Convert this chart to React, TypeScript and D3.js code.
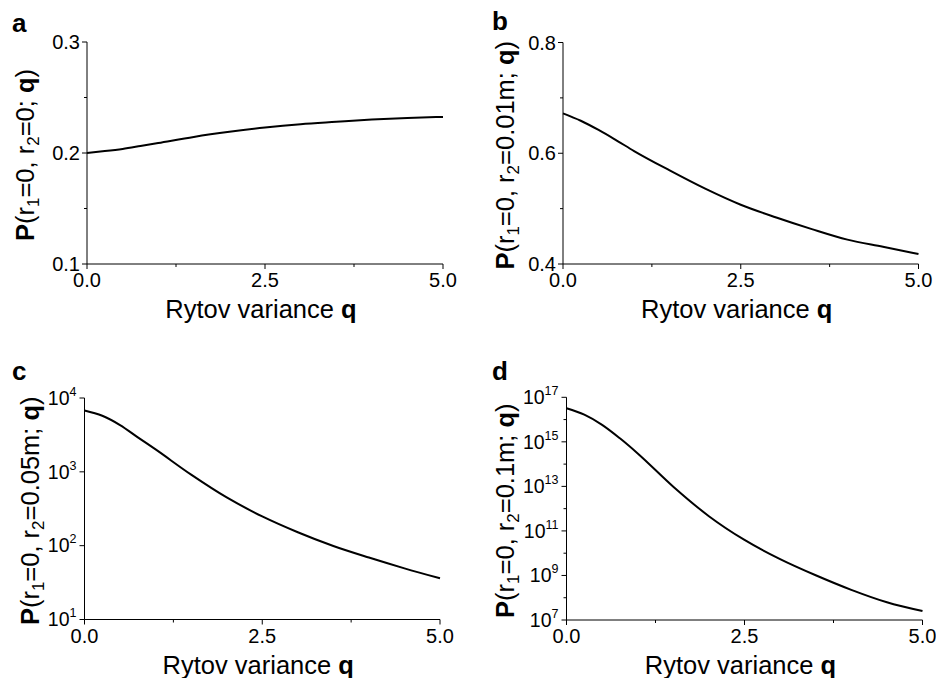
import React from "react";
import * as d3 from "d3";

// ---- data ----
const qValues = [0, 0.25, 0.5, 0.75, 1, 1.5, 2, 2.5, 3, 3.5, 4, 4.5, 5];
const aValues = [0.2, 0.2017, 0.2037, 0.2063, 0.209, 0.2145, 0.2191, 0.223, 0.226, 0.2281, 0.2301, 0.2315, 0.2325];
const bValues = [0.672, 0.6587, 0.642, 0.6234, 0.604, 0.569, 0.536, 0.507, 0.484, 0.463, 0.444, 0.431, 0.418];
const cValues = [6790, 5750, 4300, 2930, 2010, 916, 450, 249, 152, 99, 69, 49.3, 36.1];
const dValues = [3.21e16, 1.66e16, 5.8e15, 1.44e15, 3.02e14, 9.68e12, 4.59e11, 3.94e10, 5.42e9, 1.02e9, 2.26e8, 6.25e7, 2.51e7];

const xTicks = [0, 2.5, 5];
const xMinorTicks = [1.25, 3.75];
const aTicks = [0.1, 0.2, 0.3];
const aMinor = [0.15, 0.25];
const bTicks = [0.4, 0.6, 0.8];
const bMinor = [0.5, 0.7];
const cExponents = [1, 2, 3, 4];
const cMinorExp: number[] = [];
const dExponents = [7, 9, 11, 13, 15, 17];
const dMinorExp = [8, 10, 12, 14, 16];

const panelLetters = ["a", "b", "c", "d"];
const r2Labels = ["0", "0.01m", "0.05m", "0.1m"];
const xTitle = "Rytov variance ";

const FONT = "Arial, 'Liberation Sans', Helvetica, sans-serif";

type PanelProps = {
  letter: string;
  r2: string;
  values: number[];
  log: boolean;
  domain: [number, number];
  ticks: number[];
  minor: number[];
  box: { x0: number; x1: number; y0: number; y1: number };
  letterPos: [number, number];
  ylabX: number;
};

function Panel(p: PanelProps) {
  const { box } = p;
  const x = d3.scaleLinear().domain([0, 5]).range([box.x0, box.x1]);
  const y = p.log
    ? d3.scaleLog().domain(p.domain).range([box.y1, box.y0])
    : d3.scaleLinear().domain(p.domain).range([box.y1, box.y0]);
  const pts = qValues.map((q, i) => [q, p.values[i]] as [number, number]);
  const line = d3
    .line<[number, number]>()
    .x((d) => x(d[0]))
    .y((d) => y(d[1]))
    .curve(d3.curveMonotoneX);
  const majorLen = 5;
  const minorLen = 3;
  const cy = (box.y0 + box.y1) / 2;
  const cx = (box.x0 + box.x1) / 2;
  return (
    <g>
      <text x={p.letterPos[0]} y={p.letterPos[1]} fontFamily={FONT} fontWeight="bold" fontSize={26}>
        {p.letter}
      </text>
      {/* axes */}
      <line x1={box.x0} x2={box.x0} y1={box.y0} y2={box.y1} stroke="#000" strokeWidth={1} />
      <line x1={box.x0} x2={box.x1} y1={box.y1} y2={box.y1} stroke="#000" strokeWidth={1} />
      {/* x ticks */}
      {xTicks.map((t) => (
        <g key={"xt" + t}>
          <line x1={x(t)} x2={x(t)} y1={box.y1} y2={box.y1 + majorLen} stroke="#000" />
          <text x={x(t)} y={box.y1 + 23} textAnchor="middle" fontFamily={FONT} fontSize={20}>
            {t.toFixed(1)}
          </text>
        </g>
      ))}
      {xMinorTicks.map((t) => (
        <line key={"xm" + t} x1={x(t)} x2={x(t)} y1={box.y1} y2={box.y1 + minorLen} stroke="#000" />
      ))}
      {/* y ticks */}
      {p.ticks.map((t) => (
        <g key={"yt" + t}>
          <line x1={box.x0 - majorLen} x2={box.x0} y1={y(t)} y2={y(t)} stroke="#000" />
          {p.log ? (
            <text x={box.x0 - 8} y={y(t)} dy="0.35em" textAnchor="end" fontFamily={FONT} fontSize={19.5}>
              10
              <tspan fontSize={12.5} dy={-9}>
                {Math.round(Math.log10(t))}
              </tspan>
            </text>
          ) : (
            <text x={box.x0 - 7} y={y(t)} dy="0.35em" textAnchor="end" fontFamily={FONT} fontSize={20}>
              {t.toFixed(1)}
            </text>
          )}
        </g>
      ))}
      {p.minor.map((t) => (
        <line key={"ym" + t} x1={box.x0 - minorLen} x2={box.x0} y1={y(t)} y2={y(t)} stroke="#000" />
      ))}
      {/* curve */}
      <path d={line(pts) || ""} fill="none" stroke="#000" strokeWidth={2} />
      {/* x title */}
      <text x={cx - 4} y={box.y1 + 54} textAnchor="middle" fontFamily={FONT} fontSize={25.5}>
        {xTitle}
        <tspan fontWeight="bold">q</tspan>
      </text>
      {/* y title */}
      <text
        transform={`translate(${p.ylabX},${cy + 2}) rotate(-90)`}
        textAnchor="middle"
        fontFamily={FONT}
        fontSize={25.5}
      >
        <tspan fontWeight="bold">P</tspan>
        <tspan>(r</tspan>
        <tspan fontSize={17} dy={5}>1</tspan>
        <tspan dy={-5}>=0, r</tspan>
        <tspan fontSize={17} dy={5}>2</tspan>
        <tspan dy={-5}>{"=" + p.r2 + "; "}</tspan>
        <tspan fontWeight="bold">q</tspan>
        <tspan>)</tspan>
      </text>
    </g>
  );
}

export default function App() {
  return (
    <svg
      width={936}
      height={678}
      style={{ position: "absolute", left: 0, top: 0, background: "#fff" }}
    >
      <rect width={936} height={678} fill="#fff" />
      <Panel
        letter={panelLetters[0]}
        r2={r2Labels[0]}
        values={aValues}
        log={false}
        domain={[0.1, 0.3]}
        ticks={aTicks}
        minor={aMinor}
        box={{ x0: 87, x1: 443, y0: 42, y1: 264 }}
        letterPos={[12, 32]}
        ylabX={34}
      />
      <Panel
        letter={panelLetters[1]}
        r2={r2Labels[1]}
        values={bValues}
        log={false}
        domain={[0.4, 0.8]}
        ticks={bTicks}
        minor={bMinor}
        box={{ x0: 563, x1: 918.5, y0: 42.5, y1: 264 }}
        letterPos={[492, 30]}
        ylabX={514}
      />
      <Panel
        letter={panelLetters[2]}
        r2={r2Labels[2]}
        values={cValues}
        log={true}
        domain={[10, 1e4]}
        ticks={cExponents.map((e) => Math.pow(10, e))}
        minor={cMinorExp.map((e) => Math.pow(10, e))}
        box={{ x0: 84.5, x1: 440, y0: 398, y1: 619.5 }}
        letterPos={[12, 380]}
        ylabX={39}
      />
      <Panel
        letter={panelLetters[3]}
        r2={r2Labels[3]}
        values={dValues}
        log={true}
        domain={[1e7, 1e17]}
        ticks={dExponents.map((e) => Math.pow(10, e))}
        minor={dMinorExp.map((e) => Math.pow(10, e))}
        box={{ x0: 566.5, x1: 922.5, y0: 397.3, y1: 620 }}
        letterPos={[492, 380]}
        ylabX={514}
      />
    </svg>
  );
}
